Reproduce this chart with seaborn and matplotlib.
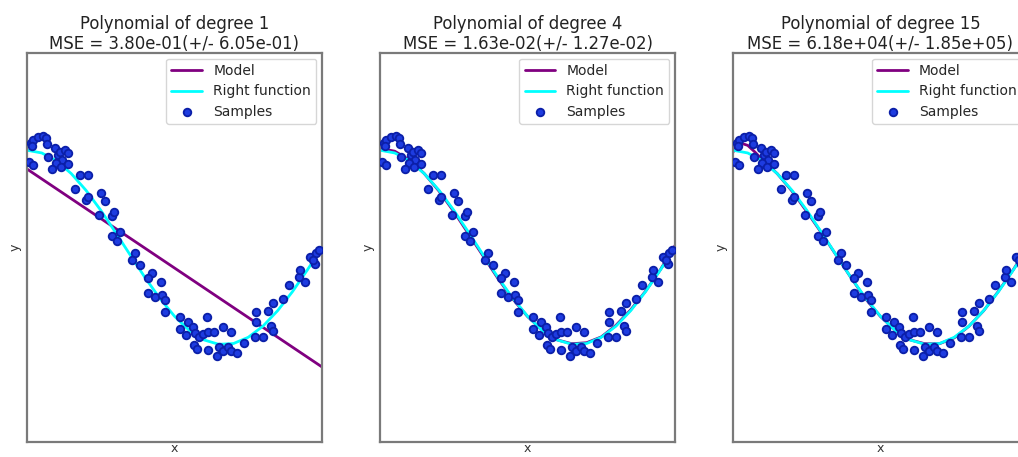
import matplotlib
matplotlib.use("Agg")
import matplotlib.pyplot as plt
import seaborn as sns

# samples (same in all three panels)
sample_x = [0.014, 0.020, 0.037, 0.054, 0.064, 0.068, 0.017, 0.007, 0.020, 0.071,
            0.095, 0.105, 0.112, 0.129, 0.139, 0.119, 0.098, 0.085, 0.115, 0.139,
            0.180, 0.207, 0.163, 0.200, 0.207, 0.251, 0.264, 0.244, 0.288, 0.295,
            0.315, 0.288, 0.305, 0.366, 0.356, 0.383, 0.424, 0.410, 0.454, 0.410,
            0.434, 0.458, 0.468, 0.468, 0.519, 0.546, 0.519, 0.539, 0.563, 0.569,
            0.610, 0.583, 0.597, 0.614, 0.634, 0.566, 0.576, 0.614, 0.644, 0.651,
            0.664, 0.664, 0.681, 0.692, 0.692, 0.712, 0.736, 0.773, 0.800, 0.776,
            0.776, 0.817, 0.827, 0.834, 0.834, 0.868, 0.888, 0.922, 0.925, 0.942,
            0.959, 0.976, 0.980, 0.990, 0.969]
sample_y = [1.075, 1.105, 1.136, 1.147, 1.126, 1.064, 1.044, 0.879, 0.848, 0.931,
            1.023, 0.951, 0.982, 1.003, 0.972, 0.900, 0.869, 0.807, 0.828, 0.859,
            0.746, 0.746, 0.602, 0.488, 0.519, 0.560, 0.478, 0.334, 0.324, 0.365,
            0.159, 0.118, 0.067, -0.057, -0.129, -0.180, -0.262, -0.314, -0.355, -0.468,
            -0.509, -0.488, -0.540, -0.663, -0.715, -0.766, -0.838, -0.900, -0.817, -0.879,
            -0.715, -0.920, -0.889, -0.869, -0.869, -1.003, -1.044, -1.054, -1.116, -1.023,
            -0.817, -1.064, -1.023, -0.869, -1.064, -1.085, -0.982, -0.920, -0.920, -0.766,
            -0.663, -0.653, -0.807, -0.859, -0.571, -0.530, -0.386, -0.303, -0.231, -0.355,
            -0.098, -0.170, -0.057, -0.026, -0.129]

# true function and fitted models
grid_x = [0.0, 0.05, 0.1, 0.15, 0.2, 0.25, 0.3, 0.35, 0.4, 0.45, 0.5,
          0.55, 0.6, 0.65, 0.7, 0.75, 0.8, 0.85, 0.9, 0.95, 1.0]
true_y = [1.0, 0.972, 0.891, 0.760, 0.588, 0.383, 0.156, -0.078, -0.309, -0.522, -0.707,
          -0.853, -0.951, -0.996, -0.988, -0.924, -0.809, -0.649, -0.454, -0.233, 0.0]
model1_x = [0.0, 1.0]
model1_y = [0.807, -1.229]
model4_y = [1.02, 0.99, 0.90, 0.76, 0.58, 0.37, 0.14, -0.09, -0.32, -0.53, -0.71,
            -0.85, -0.95, -0.99, -0.98, -0.92, -0.80, -0.64, -0.45, -0.23, 0.02]
model15_x = [0.0, 0.015, 0.03, 0.05, 0.075, 0.1, 0.15, 0.2, 0.25, 0.3, 0.35, 0.4, 0.45, 0.5,
             0.55, 0.6, 0.65, 0.7, 0.75, 0.8, 0.85, 0.9, 0.95, 1.0]
model15_y = [0.98, 1.05, 1.07, 1.05, 0.98, 0.90, 0.76, 0.58, 0.37, 0.15, -0.08, -0.31, -0.53, -0.71,
             -0.85, -0.95, -0.99, -0.99, -0.93, -0.81, -0.65, -0.45, -0.23, 0.01]

degrees = [1, 4, 15]
mse_text = ["3.80e-01(+/- 6.05e-01)", "1.63e-02(+/- 1.27e-02)", "6.18e+04(+/- 1.85e+05)"]
models = [(model1_x, model1_y), (grid_x, model4_y), (model15_x, model15_y)]

sns.set_style("white")
plt.rcParams['font.family'] = ['DejaVu Sans']

fig = plt.figure(figsize=(10.18, 4.57), dpi=100)
lefts = [0.0265, 0.3733, 0.7200]

for i in range(3):
    ax = fig.add_axes([lefts[i], 0.033, 0.2898, 0.851])
    mx, my = models[i]
    sns.lineplot(x=mx, y=my, ax=ax, color='#800080', lw=2, label='Model', sort=False)
    sns.lineplot(x=grid_x, y=true_y, ax=ax, color='cyan', lw=2, label='Right function', sort=False)
    sns.scatterplot(x=sample_x, y=sample_y, ax=ax, color='#1e3ce0', edgecolor='#0b1fa8',
                    linewidth=1.3, s=30, label='Samples', zorder=3)
    ax.set_xlim(0, 1)
    ax.set_ylim(-2, 2)
    ax.set_xticks([])
    ax.set_yticks([])
    ax.set_xlabel('x', fontsize=9, color='#333333', labelpad=0)
    ax.set_ylabel('y', fontsize=9, color='#333333')
    ax.set_title('Polynomial of degree %d\nMSE = %s' % (degrees[i], mse_text[i]),
                 fontsize=11.9, color='#222222', linespacing=1.1, pad=3)
    for sp in ax.spines.values():
        sp.set_color('#7a7a7a')
        sp.set_linewidth(1.6)
    leg = ax.legend(loc='upper right', fontsize=10, frameon=True, borderaxespad=0.4,
                    handlelength=2.2, labelspacing=0.45)
    leg.get_frame().set_edgecolor('#cccccc')

fig.savefig('out.png', dpi=100)
